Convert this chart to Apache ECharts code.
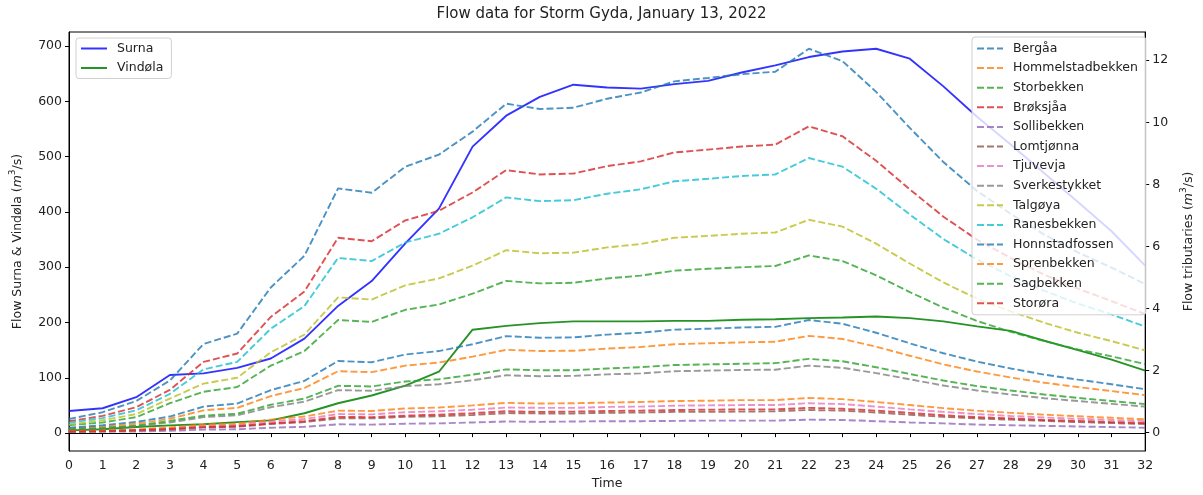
<!DOCTYPE html>
<html>
<head>
<meta charset="utf-8">
<script src="https://cdn.jsdelivr.net/npm/echarts@6/dist/echarts.min.js"></script>
<style>
  html, body { margin: 0; padding: 0; background: #fff; }
  #chart { width: 1203px; height: 495px; }
</style>
</head>
<body>
<div id="chart"></div>
<script>
// Hourly time steps
const hours = [0,1,2,3,4,5,6,7,8,9,10,11,12,13,14,15,16,17,18,19,20,21,22,23,24,25,26,27,28,29,30,31,32];

// Main rivers (m3/s), left axis
const surna   = [40,45,65,105,108,118,135,171,230,275,343,406,518,574,608,630,625,623,631,637,652,665,680,690,695,677,627,572,522,470,418,365,303];
const vindola = [5,7,11,14,16,20,23,36,54,68,86,111,187,194,199,202,202,202,203,203,205,206,208,209,211,208,202,193,185,167,150,133,113];

// Tributaries (m3/s), right axis
const bergaa          = [0.44,0.66,1.02,1.68,2.86,3.19,4.68,5.70,7.87,7.73,8.57,8.96,9.70,10.60,10.43,10.47,10.76,10.96,11.32,11.43,11.55,11.63,12.37,11.97,10.98,9.82,8.72,7.79,7.05,6.38,5.81,5.32,4.79];
const hommelstadbekken= [0.13,0.20,0.29,0.45,0.72,0.80,1.18,1.44,1.98,1.95,2.16,2.26,2.45,2.67,2.63,2.64,2.71,2.76,2.85,2.88,2.91,2.93,3.12,3.02,2.77,2.48,2.20,1.97,1.78,1.61,1.47,1.34,1.21];
const storbekken      = [0.24,0.33,0.50,0.95,1.32,1.47,2.16,2.63,3.63,3.57,3.96,4.13,4.48,4.89,4.81,4.83,4.97,5.06,5.22,5.28,5.33,5.37,5.71,5.53,5.07,4.53,4.03,3.60,3.25,2.95,2.68,2.46,2.21];
const broksjaa        = [0.37,0.54,0.82,1.38,2.28,2.55,3.73,4.55,6.28,6.17,6.84,7.15,7.74,8.46,8.32,8.35,8.59,8.74,9.03,9.12,9.22,9.28,9.87,9.55,8.76,7.84,6.96,6.22,5.63,5.09,4.64,4.24,3.82];
const sollibekken     = [0.02,0.03,0.04,0.06,0.10,0.11,0.16,0.19,0.27,0.26,0.29,0.30,0.33,0.36,0.35,0.36,0.37,0.37,0.38,0.39,0.39,0.39,0.42,0.41,0.37,0.33,0.30,0.26,0.24,0.22,0.20,0.18,0.16];
const lomtjonna       = [0.03,0.05,0.07,0.11,0.17,0.19,0.28,0.34,0.46,0.46,0.51,0.53,0.57,0.63,0.62,0.62,0.64,0.65,0.67,0.67,0.68,0.69,0.73,0.71,0.65,0.58,0.51,0.46,0.42,0.38,0.34,0.31,0.28];
const tjuvevja        = [0.04,0.06,0.09,0.14,0.22,0.25,0.36,0.44,0.60,0.59,0.66,0.69,0.74,0.81,0.80,0.80,0.83,0.84,0.87,0.88,0.89,0.89,0.95,0.92,0.84,0.75,0.67,0.60,0.54,0.49,0.45,0.41,0.37];
const sverkestykket   = [0.09,0.14,0.21,0.33,0.50,0.56,0.82,1.00,1.37,1.35,1.50,1.56,1.69,1.85,1.82,1.83,1.88,1.91,1.98,2.00,2.02,2.03,2.16,2.09,1.92,1.72,1.52,1.36,1.23,1.11,1.02,0.93,0.84];
const talgoya         = [0.26,0.40,0.60,1.10,1.58,1.77,2.59,3.16,4.36,4.29,4.75,4.97,5.38,5.88,5.78,5.80,5.97,6.08,6.28,6.34,6.41,6.45,6.86,6.64,6.09,5.45,4.84,4.32,3.91,3.54,3.22,2.95,2.65];
const ranesbekken     = [0.32,0.47,0.72,1.25,2.04,2.28,3.35,4.08,5.63,5.53,6.13,6.41,6.94,7.58,7.46,7.49,7.70,7.84,8.10,8.18,8.27,8.32,8.85,8.57,7.86,7.03,6.24,5.58,5.04,4.57,4.16,3.81,3.42];
const honnstadfossen  = [0.16,0.24,0.35,0.52,0.84,0.94,1.37,1.67,2.31,2.27,2.52,2.63,2.85,3.11,3.06,3.07,3.16,3.22,3.32,3.35,3.39,3.41,3.63,3.51,3.22,2.88,2.56,2.29,2.07,1.87,1.71,1.56,1.40];
const sprenbekken     = [0.05,0.07,0.10,0.17,0.26,0.29,0.42,0.52,0.71,0.70,0.78,0.81,0.88,0.96,0.94,0.95,0.97,0.99,1.02,1.03,1.05,1.05,1.12,1.08,0.99,0.89,0.79,0.71,0.64,0.58,0.53,0.48,0.43];
const sagbekken       = [0.10,0.15,0.23,0.38,0.55,0.61,0.90,1.10,1.51,1.49,1.65,1.72,1.87,2.04,2.01,2.01,2.07,2.11,2.18,2.20,2.22,2.24,2.38,2.30,2.11,1.89,1.68,1.50,1.36,1.23,1.12,1.02,0.92];
const storora         = [0.04,0.05,0.08,0.12,0.18,0.21,0.30,0.37,0.51,0.50,0.55,0.58,0.63,0.69,0.67,0.68,0.70,0.71,0.73,0.74,0.75,0.75,0.80,0.77,0.71,0.64,0.56,0.50,0.46,0.41,0.38,0.34,0.31];

const tributaryNames  = ['Bergåa','Hommelstadbekken','Storbekken','Brøksjåa','Sollibekken','Lomtjønna','Tjuvevja','Sverkestykket','Talgøya','Ranesbekken','Honnstadfossen','Sprenbekken','Sagbekken','Storøra'];
const tributaryValues = [bergaa,hommelstadbekken,storbekken,broksjaa,sollibekken,lomtjonna,tjuvevja,sverkestykket,talgoya,ranesbekken,honnstadfossen,sprenbekken,sagbekken,storora];
const tributaryColors = ['#1f77b4','#ff7f0e','#2ca02c','#d62728','#9467bd','#8c564b','#e377c2','#7f7f7f','#bcbd22','#17becf','#1f77b4','#ff7f0e','#2ca02c','#d62728'];

const leftTicks  = [0,100,200,300,400,500,600,700];
const rightTicks = [0,2,4,6,8,10,12];

const FONT = 'DejaVu Sans';
const TXT = '#222';

const mainSeries = [
  { name: 'Surna',   data: surna,   color: 'rgba(0,0,255,0.8)' },
  { name: 'Vindøla', data: vindola, color: 'rgba(0,128,0,0.85)' }
].map(s => ({
  name: s.name, type: 'line', yAxisIndex: 0, data: s.data,
  symbol: 'none', silent: true, z: 2,
  lineStyle: { color: s.color, width: 1.9, type: 'solid' },
  itemStyle: { color: s.color }
}));

const tribSeries = tributaryNames.map((n, i) => ({
  name: n, type: 'line', yAxisIndex: 1, data: tributaryValues[i],
  symbol: 'none', silent: true, z: 3,
  lineStyle: { color: tributaryColors[i], width: 1.9, type: [7, 3], opacity: 0.8 },
  itemStyle: { color: tributaryColors[i], opacity: 0.8 }
}));

// Legend entries show only the line sample, no marker
const legendBase = {
  orient: 'vertical',
  backgroundColor: 'rgba(255,255,255,0.8)',
  borderColor: '#d0d0d0',
  borderWidth: 1,
  borderRadius: 3,
  itemWidth: 26,
  itemHeight: 14,
  itemGap: 5.9,
  itemStyle: { opacity: 0, borderWidth: 0 },
  textStyle: { fontFamily: FONT, fontSize: 12.5, color: TXT, padding: [0, 0, 0, 5] },
  selectedMode: false
};

const axisNameRich = {
  t: { fontFamily: FONT, fontSize: 12.5, color: TXT, lineHeight: 16, verticalAlign: 'bottom' },
  i: { fontFamily: FONT, fontSize: 12.5, color: TXT, fontStyle: 'italic', lineHeight: 16, verticalAlign: 'bottom' },
  s: { fontFamily: FONT, fontSize: 9, color: TXT, lineHeight: 16, verticalAlign: 'top' }
};

const chart = echarts.init(document.getElementById('chart'), null, { renderer: 'canvas' });
chart.setOption({
  animation: false,
  backgroundColor: '#fff',
  textStyle: { fontFamily: FONT },
  title: {
    text: 'Flow data for Storm Gyda, January 13, 2022',
    left: 'center',
    top: 4,
    padding: [3, 0, 3, 18],
    textStyle: { fontFamily: FONT, fontSize: 15, fontWeight: 'normal', color: TXT }
  },
  grid: { left: 69, right: 51, top: 32, bottom: 41, show: true, borderColor: '#000', borderWidth: 1, backgroundColor: 'transparent' },
  legend: [
    Object.assign({}, legendBase, { data: ['Surna', 'Vindøla'], left: 76, top: 38, padding: [4, 8, 4, 4], itemGap: 6.5 }),
    Object.assign({}, legendBase, { data: tributaryNames, left: 972, top: 37, padding: [5, 8, 5, 4], itemGap: 6.6 })
  ],
  xAxis: {
    type: 'category',
    data: hours,
    boundaryGap: false,
    name: 'Time',
    nameLocation: 'middle',
    nameGap: 26,
    nameTextStyle: { fontFamily: FONT, fontSize: 12.5, color: TXT },
    axisLine: { lineStyle: { color: '#000', width: 1 } },
    axisTick: { show: true, length: 4, alignWithLabel: true, lineStyle: { color: '#000' } },
    axisLabel: { fontFamily: FONT, fontSize: 12.5, color: TXT, margin: 8, interval: 0 },
    splitLine: { show: false }
  },
  yAxis: [
    {
      type: 'value',
      position: 'left',
      min: -32.3,
      max: 725.3,
      name: '{t|Flow Surna & Vindøla (}{i|m}{s|3}{t|/s)}',
      nameLocation: 'middle',
      nameRotate: 90,
      nameGap: 45,
      nameTextStyle: { fontFamily: FONT, fontSize: 12.5, color: TXT, rich: axisNameRich },
      axisLine: { show: true, lineStyle: { color: '#000', width: 1 } },
      axisTick: { show: true, length: 4, customValues: leftTicks, lineStyle: { color: '#000' } },
      axisLabel: { fontFamily: FONT, fontSize: 12.5, color: TXT, margin: 7, customValues: leftTicks },
      splitLine: { show: false }
    },
    {
      type: 'value',
      position: 'right',
      min: -0.59,
      max: 12.91,
      name: '{t|Flow tributaries (}{i|m}{s|3}{t|/s)}',
      nameLocation: 'middle',
      nameRotate: 90,
      nameGap: 31,
      nameTextStyle: { fontFamily: FONT, fontSize: 12.5, color: TXT, rich: axisNameRich },
      axisLine: { show: true, lineStyle: { color: '#000', width: 1 } },
      axisTick: { show: true, length: 4, customValues: rightTicks, lineStyle: { color: '#000' } },
      axisLabel: { fontFamily: FONT, fontSize: 12.5, color: TXT, margin: 7, customValues: rightTicks },
      splitLine: { show: false }
    }
  ],
  series: mainSeries.concat(tribSeries)
});
</script>
</body>
</html>
